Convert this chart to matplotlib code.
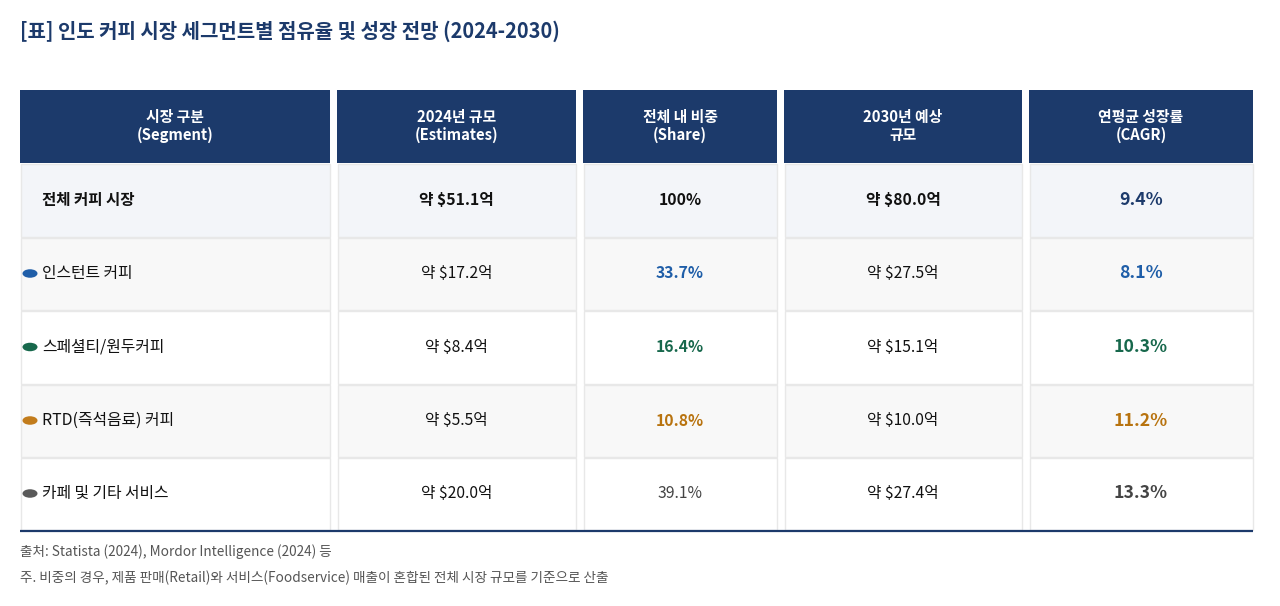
import matplotlib
matplotlib.use("Agg")
import matplotlib.pyplot as plt
from matplotlib.patches import Rectangle, Ellipse

plt.rcParams['font.family'] = ['Noto Sans CJK KR', 'DejaVu Sans']

# ---- data ----
title = "[표] 인도 커피 시장 세그먼트별 점유율 및 성장 전망 (2024-2030)"
headers = [("시장 구분", "(Segment)"), ("2024년 규모", "(Estimates)"),
           ("전체 내 비중", "(Share)"), ("2030년 예상", "규모"),
           ("연평균 성장률", "(CAGR)")]
segments = ["전체 커피 시장", "인스턴트 커피", "스페셜티/원두커피",
            "RTD(즉석음료) 커피", "카페 및 기타 서비스"]
size_2024 = [51.1, 17.2, 8.4, 5.5, 20.0]
share = [100, 33.7, 16.4, 10.8, 39.1]
size_2030 = [80.0, 27.5, 15.1, 10.0, 27.4]
cagr = [9.4, 8.1, 10.3, 11.2, 13.3]
seg_colors = [None, "#1f5ea8", "#17684c", "#c27c1c", "#595959"]
share_colors = ["#111111", "#1f5ea8", "#17684c", "#b8730f", "#444444"]
cagr_colors = ["#1c3a6b", "#1f5ea8", "#17684c", "#b8730f", "#444444"]
source = "출처: Statista (2024), Mordor Intelligence (2024) 등"
note = "주. 비중의 경우, 제품 판매(Retail)와 서비스(Foodservice) 매출이 혼합된 전체 시장 규모를 기준으로 산출"

# ---- layout ----
W, H = 1280, 606
fig = plt.figure(figsize=(W / 100, H / 100), dpi=100)
ax = fig.add_axes([0, 0, 1, 1])
ax.set_xlim(0, W)
ax.set_ylim(H, 0)
ax.axis("off")

NAVY = "#1c3a6b"
cols = [(20, 330), (337, 576), (583, 777), (784, 1022), (1029, 1253)]
head_top, head_bot = 90, 163
row_edges = [163, 237, 310, 384, 457, 530]
row_bg = ["#f3f5f9", "#f8f8f8", "#ffffff", "#f8f8f8", "#ffffff"]
border = "#e8e8e8"

ax.text(20, 31, title, fontsize=14.4, fontweight="bold", color=NAVY,
        ha="left", va="center")

for ci, (x0, x1) in enumerate(cols):
    ax.add_patch(Rectangle((x0, head_top), x1 - x0, head_bot - head_top,
                           facecolor=NAVY, edgecolor="none"))
    cx = (x0 + x1) / 2
    l1, l2 = headers[ci]
    ax.text(cx, 117, l1, fontsize=10.7, fontweight="bold", color="white",
            ha="center", va="center")
    ax.text(cx, 135, l2, fontsize=10.7, fontweight="bold", color="white",
            ha="center", va="center")
    for ri in range(len(segments)):
        y0, y1 = row_edges[ri], row_edges[ri + 1]
        ax.add_patch(Rectangle((x0 + 0.5, y0 + 0.5), x1 - x0 - 1, y1 - y0 - 1,
                               facecolor=row_bg[ri], edgecolor=border,
                               linewidth=1.0))

cxs = [(a + b) / 2 for a, b in cols]
for ri, seg in enumerate(segments):
    yc = (row_edges[ri] + row_edges[ri + 1]) / 2
    total = ri == 0
    # column 1
    if total:
        ax.text(42, yc, seg, fontsize=11.2, fontweight="bold", color="#111111",
                ha="left", va="center")
    else:
        ax.add_patch(Ellipse((30, yc), 15, 8.5, facecolor=seg_colors[ri],
                             edgecolor="none"))
        ax.text(42, yc, seg, fontsize=11.4, color="#111111",
                ha="left", va="center")
    wt = "bold" if total else "normal"
    ax.text(cxs[1], yc, f"약 ${size_2024[ri]:.1f}억", fontsize=11.3,
            fontweight=wt, color="#111111", ha="center", va="center")
    stxt = "100%" if total else f"{share[ri]:.1f}%"
    sw = "bold" if (total or ri in (1, 2, 3)) else "normal"
    ax.text(cxs[2], yc, stxt, fontsize=11.3, fontweight=sw,
            color=share_colors[ri], ha="center", va="center")
    ax.text(cxs[3], yc, f"약 ${size_2030[ri]:.1f}억", fontsize=11.3,
            fontweight=wt, color="#111111", ha="center", va="center")
    ax.text(cxs[4], yc, f"{cagr[ri]:.1f}%", fontsize=12.7, fontweight="bold",
            color=cagr_colors[ri], ha="center", va="center")

ax.plot([20, 1253], [530.5, 530.5], color=NAVY, linewidth=1.6,
        solid_capstyle="butt")

ax.text(20, 552, source, fontsize=9.8, color="#555555", ha="left", va="center")
ax.text(20, 578, note, fontsize=9.8, color="#555555", ha="left", va="center")

fig.savefig("out.png", dpi=100, facecolor="white")
